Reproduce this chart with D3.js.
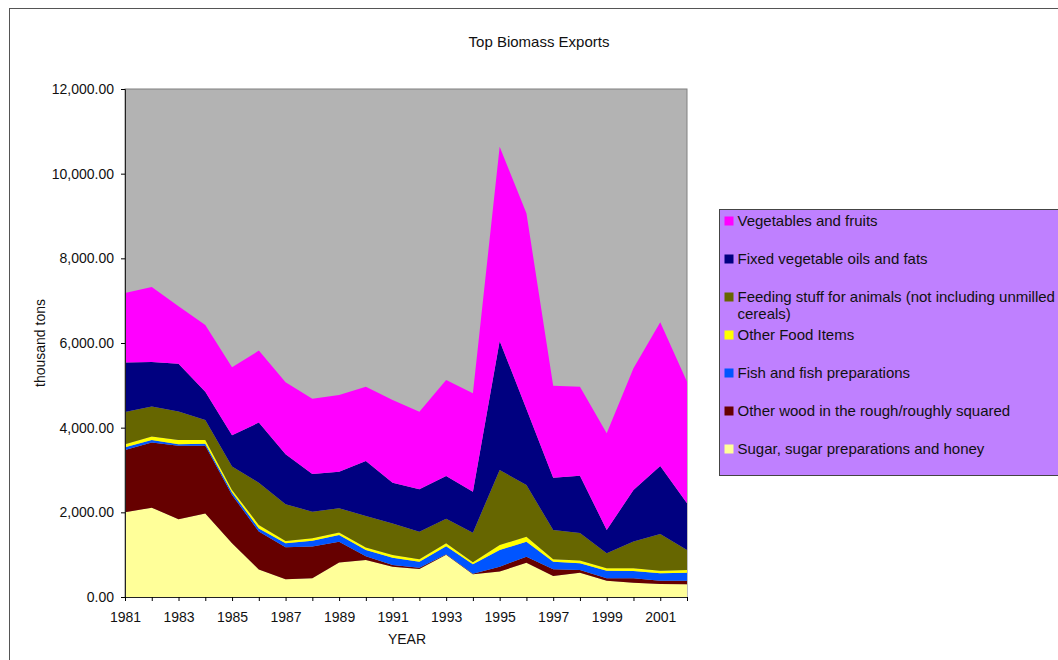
<!DOCTYPE html>
<html>
<head>
<meta charset="utf-8">
<script src="https://cdn.jsdelivr.net/npm/d3@7"></script>
<style>
  body { margin: 0; background: #fff; }
  svg text { font-family: "Liberation Sans", Arial, sans-serif; fill: #111; }
</style>
</head>
<body>
<div id="chart"></div>
<script>
// data (thousand tons)
var years = d3.range(1981, 2003);
var sugar = [2000, 2110, 1835, 1975, 1270, 650, 420, 440, 815, 874, 715, 660, 1000, 535, 600, 811, 496, 575, 386, 339, 307, 299];
var wood = [1470, 1540, 1735, 1595, 1140, 895, 755, 750, 492, 91, 41, 33, 8, 16, 116, 142, 158, 63, 55, 102, 79, 87];
var fish = [70, 60, 40, 50, 60, 75, 95, 140, 158, 145, 169, 141, 192, 221, 394, 354, 180, 162, 181, 173, 173, 189];
var otherFood = [70, 80, 100, 90, 60, 80, 55, 55, 60, 60, 67, 56, 70, 47, 118, 118, 56, 60, 55, 63, 63, 63];
var feeding = [760, 710, 670, 470, 550, 1000, 865, 631, 569, 745, 743, 653, 580, 701, 1772, 1221, 690, 650, 354, 633, 866, 472];
var oils = [1170, 1050, 1130, 670, 740, 1420, 1180, 890, 867, 1298, 965, 1001, 1008, 968, 3050, 1794, 1239, 1356, 552, 1218, 1606, 1103];
var veg = [1640, 1770, 1360, 1575, 1605, 1700, 1700, 1779, 1811, 1756, 1954, 1834, 2268, 2323, 4588, 4624, 2171, 2103, 2283, 2874, 3396, 2874];

var keys = ["sugar", "wood", "fish", "otherFood", "feeding", "oils", "veg"];
var seriesNames = {
    sugar: ["Sugar, sugar preparations and honey"],
    wood: ["Other wood in the rough/roughly squared"],
    fish: ["Fish and fish preparations"],
    otherFood: ["Other Food Items"],
    feeding: ["Feeding stuff for animals (not including unmilled", "cereals)"],
    oils: ["Fixed vegetable oils and fats"],
    veg: ["Vegetables and fruits"]
};
var colors = {
    sugar: "#ffff99", wood: "#660000", fish: "#0055ff", otherFood: "#ffff00",
    feeding: "#666600", oils: "#000080", veg: "#ff00ff"
};
var yTicks = [0, 2000, 4000, 6000, 8000, 10000, 12000];

var table = years.map(function(y, i) {
    return {year: y, sugar: sugar[i], wood: wood[i], fish: fish[i], otherFood: otherFood[i],
            feeding: feeding[i], oils: oils[i], veg: veg[i]};
});

var W = 1058, H = 660;
var margin = {top: 89, left: 125, right: W - 687, bottom: H - 597},
    width = W - margin.left - margin.right,
    height = H - margin.top - margin.bottom;

var svg = d3.select("#chart").append("svg")
    .attr("width", W).attr("height", H);

// outer chart frame
svg.append("rect")
    .attr("x", 9.5).attr("y", 8.5).attr("width", W + 20).attr("height", H + 20)
    .attr("fill", "#fff").attr("stroke", "#555").attr("stroke-width", 1);

svg.append("text")
    .attr("x", 539).attr("y", 47)
    .attr("text-anchor", "middle")
    .style("font-size", "15px")
    .text("Top Biomass Exports");

var g = svg.append("g")
    .attr("transform", "translate(" + margin.left + "," + margin.top + ")");

var x = d3.scaleLinear().domain([1981, 2002]).range([0, width]);
var y = d3.scaleLinear().domain([0, 12000]).range([height, 0]);

g.append("rect")
    .attr("width", width).attr("height", height)
    .attr("fill", "#b3b3b3")
    .attr("stroke", "#808080");

var stacked = d3.stack().keys(keys)(table);

var area = d3.area()
    .x(function(d) { return x(d.data.year); })
    .y0(function(d) { return y(d[0]); })
    .y1(function(d) { return y(d[1]); });

g.selectAll(".layer")
    .data(stacked)
    .enter().append("path")
    .attr("class", "layer")
    .attr("fill", function(d) { return colors[d.key]; })
    .attr("d", area);

// axes
var yAxis = d3.axisLeft(y)
    .tickValues(yTicks)
    .tickSize(4)
    .tickPadding(7)
    .tickFormat(d3.format(",.2f"));
var gy = g.append("g").call(yAxis);
gy.select(".domain").attr("stroke", "#222");
gy.selectAll("text").style("font-size", "14px").style("fill", "#111");

var xAxis = d3.axisBottom(x)
    .tickValues(years)
    .tickSize(4)
    .tickPadding(11)
    .tickFormat(function(d) { return (d - 1981) % 2 === 0 ? String(d) : ""; });
var gx = g.append("g")
    .attr("transform", "translate(0," + height + ")")
    .call(xAxis);
gx.select(".domain").attr("stroke", "#222");
gx.selectAll("text").style("font-size", "14px").style("fill", "#111");

svg.append("text")
    .attr("x", 407).attr("y", 644)
    .attr("text-anchor", "middle")
    .style("font-size", "14px")
    .text("YEAR");

svg.append("text")
    .attr("transform", "translate(45,343) rotate(-90)")
    .attr("text-anchor", "middle")
    .style("font-size", "14px")
    .text("thousand tons");

// legend
var legend = svg.append("g").attr("transform", "translate(719.5,209.5)");
legend.append("rect")
    .attr("width", 360).attr("height", 266)
    .attr("fill", "#bf80ff")
    .attr("stroke", "#444");

var legendKeys = keys.slice().reverse();
var item = legend.selectAll(".item")
    .data(legendKeys)
    .enter().append("g")
    .attr("class", "item")
    .attr("transform", function(d, i) { return "translate(0," + (16.5 + i * 38) + ")"; });

item.append("rect")
    .attr("x", 5).attr("y", -9.5)
    .attr("width", 9).attr("height", 9)
    .attr("fill", function(d) { return colors[d]; });

item.append("text")
    .attr("x", 18).attr("y", 0)
    .style("font-size", "15px")
    .each(function(d) {
        var t = d3.select(this);
        seriesNames[d].forEach(function(line, j) {
            t.append("tspan").attr("x", 18).attr("dy", j === 0 ? 0 : 17).text(line);
        });
    });
</script>
</body>
</html>
